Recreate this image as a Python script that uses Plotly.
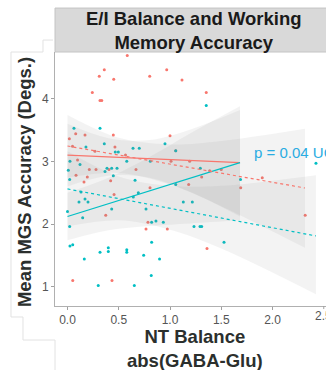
import plotly.graph_objects as go

RED = "#F8766D"
CYAN = "#00BFC4"

# scatter points (NT balance, mean MGS accuracy)
red_x = [0.583, 0.359, 0.310, 0.451, 0.242, 0.317, 0.334, 0.080, 0.171, 0.018, 0.447, 0.049,
         0.268, 0.463, 0.566, 0.098, 0.668, 0.213, 0.278, 0.405, 0.083, 0.193, 0.802, 0.968,
         1.117, 1.354, 1.000, 1.010, 1.192, 1.387, 1.500, 1.309, 1.056, 0.161, 0.421, 0.454,
         0.373, 0.051, 0.434, 0.805, 1.182, 0.785, 0.766, 0.974, 1.361, 1.690, 1.900, 2.319]
red_y = [4.69, 4.46, 4.36, 4.31, 4.10, 3.97, 3.97, 3.44, 3.42, 3.36, 3.42, 3.24,
         3.16, 3.23, 3.10, 3.02, 2.87, 2.87, 2.87, 2.87, 2.78, 2.75, 4.36, 4.46,
         4.30, 4.10, 3.41, 3.00, 3.00, 2.85, 2.87, 2.75, 3.17, 2.67, 2.69, 2.47,
         2.14, 1.10, 1.10, 2.58, 2.63, 2.03, 1.92, 1.92, 1.61, 2.58, 2.74, 2.14]

cyan_x = [0.063, 0.317, 0.359, 0.466, 0.496, 0.639, 0.700, 0.024, 0.008, 0.385, 0.431, 0.483,
          0.578, 0.366, 0.021, 0.447, 1.354, 0.951, 1.056, 0.808, 1.296, 0.659, 0.132, 0.691,
          0.171, 0.112, 0.200, 0.642, 0.431, 0.000, 0.148, 0.021, 0.024, 0.051, 0.317, 0.398,
          0.398, 0.578, 0.578, 0.164, 0.743, 0.300, 0.652, 1.056, 1.130, 1.218, 0.766, 0.821,
          0.863, 0.935, 1.234, 1.293, 1.309, 0.821, 1.527, 0.898, 0.817, 1.688, 2.424, 0.180,
          0.122]
cyan_y = [3.53, 3.53, 3.28, 3.15, 3.15, 3.21, 3.21, 3.00, 2.86, 2.89, 2.89, 2.89,
          3.00, 2.84, 2.71, 2.77, 3.89, 3.28, 3.17, 3.00, 2.89, 2.70, 2.51, 2.50,
          2.40, 2.35, 2.35, 2.43, 2.24, 2.20, 2.10, 1.96, 1.65, 1.67, 1.55, 1.62,
          1.56, 1.59, 1.55, 1.44, 1.50, 1.02, 1.02, 2.63, 2.35, 2.35, 2.24, 2.03,
          2.05, 2.03, 1.96, 1.96, 1.96, 1.71, 1.71, 1.44, 1.18, 2.71, 2.97, 3.23,
          2.95]

# fitted lines (endpoints)
solid_x = [0.0, 1.683]
solid_red_y = [3.10, 2.98]
solid_cyan_y = [2.12, 2.98]
dot_red_x = [0.0, 2.317]
dot_red_y = [3.245, 2.575]
dot_cyan_x = [0.0, 2.424]
dot_cyan_y = [2.56, 1.81]

# confidence bands
band_solid_x = [0.0, 0.4, 0.8, 1.2, 1.683]
band_solid_red_lo = [2.60, 2.77, 2.74, 2.51, 2.12]
band_solid_red_hi = [3.60, 3.37, 3.34, 3.51, 3.82]
band_solid_cyan_lo = [1.74, 1.90, 1.97, 2.01, 2.06]
band_solid_cyan_hi = [2.50, 2.74, 3.07, 3.45, 3.88]
band_dot_red_x = [0.0, 0.5, 1.0, 1.5, 2.317]
band_dot_red_lo = [2.74, 2.815, 2.63, 2.285, 1.62]
band_dot_red_hi = [3.74, 3.375, 3.27, 3.325, 3.52]
band_dot_cyan_x = [0.0, 0.5, 1.0, 1.5, 2.424]
band_dot_cyan_lo = [1.96, 2.06, 1.91, 1.61, 0.88]
band_dot_cyan_hi = [3.16, 2.76, 2.61, 2.61, 2.78]

x_ticks = [0.0, 0.5, 1.0, 1.5, 2.0, 2.5]
y_ticks = [1, 2, 3, 4]

FONT = "Liberation Sans, Arial, sans-serif"
TICK_FONT = dict(size=12, color="#555555", family=FONT)
fig = go.Figure()

# points
fig.add_trace(go.Scatter(x=red_x, y=red_y, mode="markers",
                         marker=dict(color=RED, size=3), hoverinfo="skip"))
fig.add_trace(go.Scatter(x=cyan_x, y=cyan_y, mode="markers",
                         marker=dict(color=CYAN, size=3), hoverinfo="skip"))

BAND = "rgba(140,140,140,0.10)"
for bx, lo, hi in [(band_solid_x, band_solid_red_lo, band_solid_red_hi),
                   (band_solid_x, band_solid_cyan_lo, band_solid_cyan_hi),
                   (band_dot_red_x, band_dot_red_lo, band_dot_red_hi),
                   (band_dot_cyan_x, band_dot_cyan_lo, band_dot_cyan_hi)]:
    fig.add_trace(go.Scatter(x=bx, y=lo, mode="lines", line=dict(width=0, shape="spline"),
                             hoverinfo="skip"))
    fig.add_trace(go.Scatter(x=bx, y=hi, mode="lines", line=dict(width=0, shape="spline"),
                             fill="tonexty", fillcolor=BAND, hoverinfo="skip"))

fig.add_trace(go.Scatter(x=solid_x, y=solid_red_y, mode="lines",
                         line=dict(color=RED, width=1.2)))
fig.add_trace(go.Scatter(x=solid_x, y=solid_cyan_y, mode="lines",
                         line=dict(color=CYAN, width=1.2)))
fig.add_trace(go.Scatter(x=dot_red_x, y=dot_red_y, mode="lines",
                         line=dict(color=RED, width=1.2, dash="dot")))
fig.add_trace(go.Scatter(x=dot_cyan_x, y=dot_cyan_y, mode="lines",
                         line=dict(color=CYAN, width=1.2, dash="dot")))

# the last tick label is clipped by the image edge in the reference
last_tick_ann = dict(text=f"{x_ticks[-1]:.1f}", xref="x", yref="paper", x=x_ticks[-1], y=-0.04,
                     xanchor="center", yanchor="middle", showarrow=False, font=TICK_FONT)

fig.update_layout(
    width=326, height=370,
    margin=dict(l=55, r=0, t=52, b=64),
    paper_bgcolor="white", plot_bgcolor="white",
    showlegend=False,
    font=dict(family=FONT),
    xaxis=dict(range=[-0.122, 2.522], tickvals=x_ticks[:-1],
               ticktext=[f"{v:.1f}" for v in x_ticks[:-1]],
               showgrid=False, zeroline=False, showline=True, linecolor="#b0b0b0", linewidth=1,
               ticks="outside", ticklen=3, tickcolor="#a0a0a0", tickfont=TICK_FONT),
    yaxis=dict(range=[0.692, 4.745], tickvals=y_ticks, ticktext=[str(v) for v in y_ticks],
               showgrid=False, zeroline=False, showline=True, linecolor="#b0b0b0", linewidth=1,
               ticks="outside", ticklen=3, tickcolor="#a0a0a0", tickfont=TICK_FONT),
    shapes=[
        dict(type="rect", xref="paper", yref="paper", x0=0, x1=1.05, y0=1.0, y1=1.173,
             fillcolor="#D9D9D9", line=dict(color="#C4C4C4", width=1), layer="below"),
        dict(type="path", xref="paper", yref="paper",
             path="M -0.0074 1.047 L -0.0443 1.047 L -0.0443 1.0 L -0.1624 1.0 L -0.1624 -0.0433 "
                  "L -0.1181 -0.0433 L -0.1181 -0.1339 L 0 -0.1339 L 0 -0.252",
             line=dict(color="#E2E2E2", width=1)),
        dict(type="line", xref="x", yref="paper", x0=x_ticks[-1], x1=x_ticks[-1],
             y0=0, y1=-0.012, line=dict(color="#a0a0a0", width=1)),
    ],
    annotations=[
        dict(text="<b>E/I Balance and Working<br>Memory Accuracy</b>", xref="paper", yref="paper",
             x=0.513, y=1.0827, xanchor="center", yanchor="middle", showarrow=False,
             font=dict(size=18.5, color="#1a1a1a", family=FONT)),
        dict(text="<b>Mean MGS Accuracy (Degs.)</b>", xref="paper", yref="paper",
             x=-0.1144, y=0.488, xanchor="center", yanchor="middle", textangle=-90,
             showarrow=False, font=dict(size=18.5, color="#2b2f2d", family=FONT)),
        dict(text="<b>NT Balance<br>abs(GABA-Glu)</b>", xref="paper", yref="paper",
             x=0.5166, y=-0.167, xanchor="center", yanchor="middle", showarrow=False,
             font=dict(size=18.5, color="#2b2f2d", family=FONT)),
        dict(text="p = 0.04 UC", xref="x", yref="y", x=1.80, y=3.14,
             xanchor="left", yanchor="middle", showarrow=False,
             font=dict(size=15, color="#2AACE2", family=FONT)),
        last_tick_ann,
    ],
)

fig.write_html("out.html", config={"displayModeBar": False},
               post_script="document.body.style.margin='0';document.body.style.overflow='hidden';")
